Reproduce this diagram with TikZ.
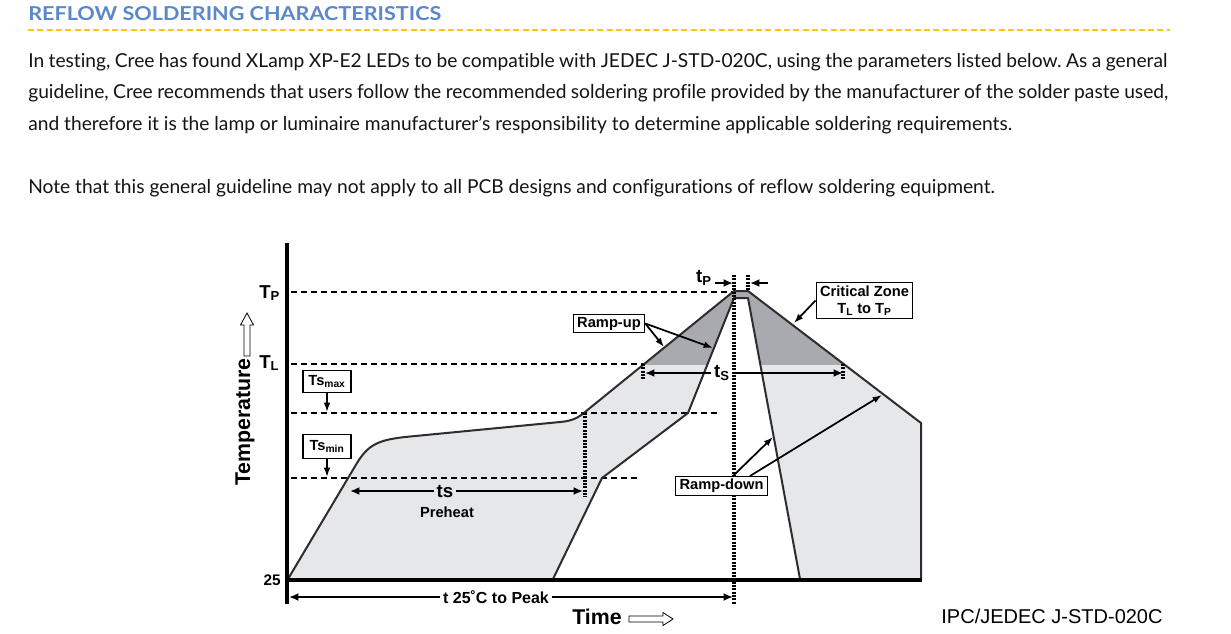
\documentclass[tikz,border=0pt]{standalone}
\usepackage{fontspec}
\setmainfont{Liberation Sans}
\newfontfamily\webfont[Ligatures={NoCommon}]{Lato}
\usetikzlibrary{arrows.meta,positioning}
\definecolor{headblue}{RGB}{90,136,200}
\definecolor{ruleyellow}{RGB}{250,200,20}
\definecolor{bodytext}{RGB}{20,20,20}
\definecolor{bandgray}{RGB}{230,231,233}
\definecolor{zonegray}{RGB}{168,170,175}
\definecolor{edgegray}{RGB}{45,45,48}
\newcommand\lowidx[1]{\textsubscript{#1}}
\frenchspacing
% shaded band between the two profile limits
\newcommand\bandpath{(288,579) -- (357,463) .. controls (368,445) and (378,440) .. (405,437) -- (560,422) .. controls (572,421) and (578,418) .. (585,412) -- (734,291) -- (748,291) -- (921,423) -- (921,579) -- (800,579) -- (748,298) -- (734,298) -- (688,413) -- (602,478) -- (553,579) -- cycle}
\begin{document}
\begin{tikzpicture}[x=0.75pt,y=-0.75pt,
  bodyline/.style={anchor=base west,inner sep=0pt,text=bodytext,font=\webfont\fontsize{14.4pt}{17pt}\selectfont},
  levelline/.style={line width=2pt,dash pattern=on 4.5pt off 3pt},
  dotline/.style={line width=2.3pt,dash pattern=on 1.5pt off 1pt},
  edge/.style={draw=edgegray,line width=1.5pt,line join=round},
  dimarrow/.style={line width=1.8pt,-{Latex[length=7pt,width=6pt]}},
  callout/.style={line width=1.3pt,-{Latex[length=7pt,width=5pt]}},
  tagbox/.style={draw,line width=0.8pt,fill=white,inner xsep=3pt,inner ysep=2pt,align=center,font=\bfseries\fontsize{11pt}{13pt}\selectfont},
  dimlabel/.style={inner sep=2pt,font=\bfseries\fontsize{14pt}{16pt}\selectfont},
  axislabel/.style={font=\bfseries\fontsize{16pt}{18pt}\selectfont},
  levellabel/.style={anchor=base west,inner sep=0pt,font=\bfseries\fontsize{14pt}{15pt}\selectfont},
  hollow/.style={draw,line width=0.6pt,fill=white}]
\fill[white] (0,0) rectangle (1231,633);
\useasboundingbox (0,0) rectangle (1231,633);

% heading and text
\node[anchor=base west,inner sep=0pt,text=headblue] (title) at (28,20) {\resizebox{309.75pt}{10.5pt}{\webfont\bfseries REFLOW SOLDERING CHARACTERISTICS}};
\draw[ruleyellow,line width=1.5pt,dash pattern=on 4.5pt off 2.5pt] (28,30) -- (1170,30);
\node[bodyline] (para1) at (28,67) {\makebox[854.25pt][s]{In testing, Cree has found XLamp XP-E2 LEDs to be compatible with JEDEC J-STD-020C, using the parameters listed below. As a general}};
\node[bodyline] (para2) at (28,98) {\makebox[855pt][s]{guideline, Cree recommends that users follow the recommended soldering profile provided by the manufacturer of the solder paste used,}};
\node[bodyline] (para3) at (28,130) {and therefore it is the lamp or luminaire manufacturer’s responsibility to determine applicable soldering requirements.};
\node[bodyline] (para4) at (28,193) {Note that this general guideline may not apply to all PCB designs and configurations of reflow soldering equipment.};

% profile band
\fill[bandgray] \bandpath;
\begin{scope}
  \clip (288,250) rectangle (921,364);
  \fill[zonegray] \bandpath;
\end{scope}

% temperature levels
\draw[levelline] (291,292) -- (734,292);
\draw[levelline] (291,364) -- (643,364);
\draw[levelline] (291,413) -- (720,413);
\draw[levelline] (291,478) -- (640,478);

% profile limits
\draw[edge] (288,579) -- (357,463) .. controls (368,445) and (378,440) .. (405,437) -- (560,422) .. controls (572,421) and (578,418) .. (585,412) -- (734,291) -- (748,291) -- (921,423) -- (921,579);
\draw[edge] (553,579) -- (602,478) -- (688,413) -- (734,298) -- (748,298) -- (800,579);

% time marks
\draw[dotline] (734,275) -- (734,604);
\draw[dotline] (748,275) -- (748,291);
\draw[dotline] (585,413) -- (585,497);
\draw[dotline] (643,364) -- (643,380);
\draw[dotline] (843,364) -- (843,380);

% axes
\draw[line width=3pt] (287,243) -- (287,604);
\draw[line width=3pt] (285.5,580) -- (922,580);

\node[levellabel] (tp) at (259,298) {T\lowidx{P}};
\node[levellabel] (tl) at (259,368) {T\lowidx{L}};
\node[anchor=east,inner sep=0pt,font=\bfseries\fontsize{11.5pt}{12pt}\selectfont] (base) at (281,580) {25};
\node[axislabel,rotate=90] (templabel) at (245,422) {Temperature};
\node[axislabel] (timelabel) at (597,617) {Time};
\node[anchor=base,inner sep=0pt,font=\fontsize{15pt}{18pt}\selectfont] (stdlabel) at (1052,623) {IPC/JEDEC J-STD-020C};
\draw[hollow] (244,356) -- (244,325) -- (240.5,325) -- (247,313) -- (253.5,325) -- (250,325) -- (250,356) -- cycle;
\draw[hollow] (629,616) -- (663,616) -- (663,612.5) -- (673,619) -- (663,625.5) -- (663,622) -- (629,622) -- cycle;

% callouts
\node[tagbox,minimum width=36pt,minimum height=17pt] (tsmax) at (327,381.5) {Ts\lowidx{max}};
\node[tagbox,minimum width=36pt,minimum height=18.5pt] (tsmin) at (327,446.5) {Ts\lowidx{min}};
\coordinate (tsmaxlvl) at (327,412);
\coordinate (tsminlvl) at (327,477);
\draw[callout] (tsmax) -- (tsmaxlvl);
\draw[callout] (tsmin) -- (tsminlvl);

\node[tagbox] (rampup) at (609,323.5) {Ramp-up};
\coordinate (upouter) at (664,347);
\coordinate (upinner) at (713,348);
\draw[callout] (rampup.east) -- (upouter);
\draw[callout] (rampup.east) -- (upinner);

\node[tagbox] (critzone) at (864.5,300.5) {Critical Zone\\T\lowidx{L} to T\lowidx{P}};
\coordinate (critedge) at (794,323);
\draw[callout] (critzone.west) -- (critedge);

\node[tagbox] (rampdown) at (721.5,486) {Ramp-down};
\coordinate (downinner) at (773,437);
\coordinate (downouter) at (882,395);
\draw[callout] ([xshift=8.6pt]rampdown.north) -- (downinner);
\draw[callout] ([xshift=21.4pt]rampdown.north) -- (downouter);

% durations
\node[dimlabel] (tslabel) at (445,491) {ts};
\node[font=\bfseries\fontsize{11pt}{12pt}\selectfont] (preheat) at (447,512) {Preheat};
\coordinate (tsleft) at (350,491);
\coordinate (tsright) at (583,491);
\draw[dimarrow] (tslabel) -- (tsleft);
\draw[dimarrow] (tslabel) -- (tsright);

\node[dimlabel] (zonelabel) at (722,373) {t\lowidx{S}};
\coordinate (zoneleft) at (645,373);
\coordinate (zoneright) at (843,373);
\draw[dimarrow] (zonelabel) -- (zoneleft);
\draw[dimarrow] (zonelabel) -- (zoneright);

\node[dimlabel] (peaklabel) at (704,278) {t\lowidx{P}};
\coordinate (peakleft) at (733,283);
\coordinate (peakright) at (750,283);
\coordinate (peakfrom) at (768,283);
\draw[dimarrow] (peaklabel.east |- peakleft) -- (peakleft);
\draw[dimarrow] (peakfrom) -- (peakright);

\node[dimlabel,font=\bfseries\fontsize{12pt}{14pt}\selectfont] (rampspan) at (496,597) {t 25˚C to Peak};
\coordinate (spanleft) at (289,597);
\coordinate (spanright) at (733,597);
\draw[dimarrow] (rampspan) -- (spanleft);
\draw[dimarrow] (rampspan) -- (spanright);
\end{tikzpicture}
\end{document}
